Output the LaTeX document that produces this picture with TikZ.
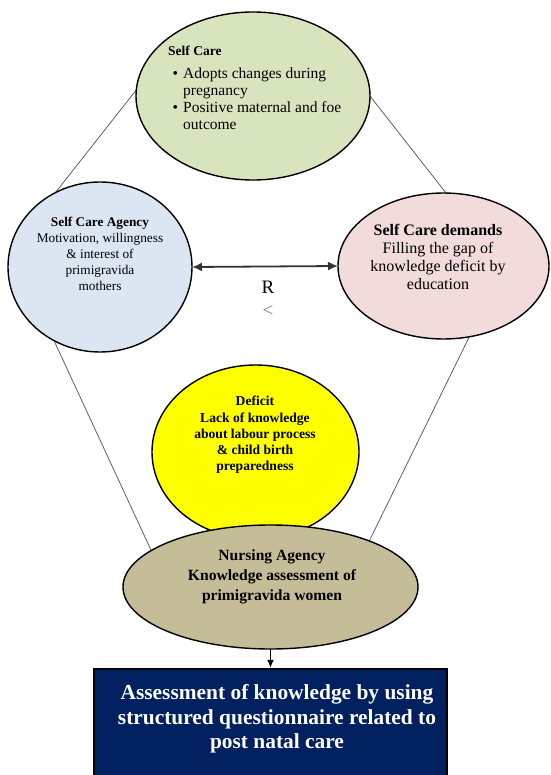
\documentclass[tikz,border=0pt]{standalone}
\usepackage{fontspec}
\setmainfont{Liberation Serif}
\usetikzlibrary{shapes.geometric,arrows.meta,backgrounds}
\definecolor{scgreen}{HTML}{D7E4BD}
\definecolor{agblue}{HTML}{DCE6F2}
\definecolor{dmpink}{HTML}{F2DCDB}
\definecolor{defyellow}{HTML}{FFFF00}
\definecolor{ntan}{HTML}{C4BD97}
\definecolor{navybox}{HTML}{002060}
\definecolor{conngray}{HTML}{505050}
\definecolor{arrgray}{HTML}{333333}
\newcommand{\bulletcell}{\makebox[15pt][l]{\hspace{4.5pt}\textbullet}}
\newcommand{\emptycell}{\makebox[15pt][l]{}}
\begin{document}
\begin{tikzpicture}[x=1pt,y=-1pt,
  ell/.style={ellipse, draw=black, line width=1.4pt, inner sep=0pt, outer sep=0pt},
  connline/.style={draw=conngray, line width=0.7pt},
  txt/.style={align=center, inner sep=0pt, text=black}]
\useasboundingbox (0,0) rectangle (550,775);
\clip (0,0) rectangle (550,775);
% ellipses
\node[ell, fill=scgreen, minimum width=234pt, minimum height=168pt] (sc) at (253,96) {};
\node[ell, fill=agblue, minimum width=184pt, minimum height=170pt] (ag) at (100,267) {};
\node[ell, fill=dmpink, minimum width=211pt, minimum height=146pt] (dm) at (443.5,266) {};
\node[ell, fill=defyellow, minimum width=207pt, minimum height=174pt] (def) at (255.5,452) {};
\node[ell, fill=ntan, minimum width=295pt, minimum height=124pt] (nurse) at (270.5,587) {};
\node[draw=black, line width=2.5pt, fill=navybox, minimum width=353pt, minimum height=130pt, inner sep=0pt] (box) at (270.5,734) {};
% connectors
\begin{scope}[on background layer]
\fill[white] (0,0) rectangle (550,775);
\draw[connline] (sc.177) -- (ag.121);
\draw[connline] (sc.0) -- (dm.88);
\draw[connline] (ag.238) -- (nurse.163);
\draw[connline] (dm.-70) -- (nurse.25.5);
\end{scope}
\draw[draw=arrgray, line width=1.8pt, {Latex[length=10pt,width=9pt]}-{Latex[length=10pt,width=9pt]}] (ag.east) -- (dm.west);
\draw[line width=1pt, -{Latex[length=8pt,width=7pt]}] (nurse.south) -- (nurse.south |- box.north);
% texts
\node[txt, align=left, anchor=north west, font=\fontsize{15.5}{17}\selectfont] (sctext) at (168,46) {%
{\fontsize{13.5}{17}\selectfont\bfseries Self Care}\\[6pt]
\bulletcell Adopts changes during\\
\emptycell pregnancy\\
\bulletcell Positive maternal and foe\\
\emptycell outcome};
\node[txt, font=\fontsize{13.3}{16}\selectfont] (agtext) at (100,254) {\textbf{Self Care Agency}\\Motivation, willingness\\\& interest of\\primigravida\\mothers};
\node[txt, font=\fontsize{16}{18}\selectfont] (dmtext) at (438,257) {\textbf{Self Care demands}\\Filling the gap of\\knowledge deficit by\\education};
\node[txt, font=\fontsize{19}{20}\selectfont] (rlabel) at (268,287) {R};
\node[txt, font=\fontsize{19}{20}\selectfont, text=gray] (ltlabel) at (268,311) {<};
\node[txt, font=\fontsize{13.6}{16.3}\selectfont\bfseries] (deftext) at (255,435) {Deficit\\Lack of knowledge\\about labour process\\\& child birth\\preparedness};
\node[txt, font=\fontsize{15.6}{20}\selectfont\bfseries] (nursetext) at (272,577) {Nursing Agency\\Knowledge assessment of\\primigravida women};
\node[txt, text=white, font=\fontsize{21.4}{24.5}\selectfont\bfseries] (boxtext) at (277,719) {Assessment of knowledge by using\\structured questionnaire related to\\post natal care};
\end{tikzpicture}
\end{document}
